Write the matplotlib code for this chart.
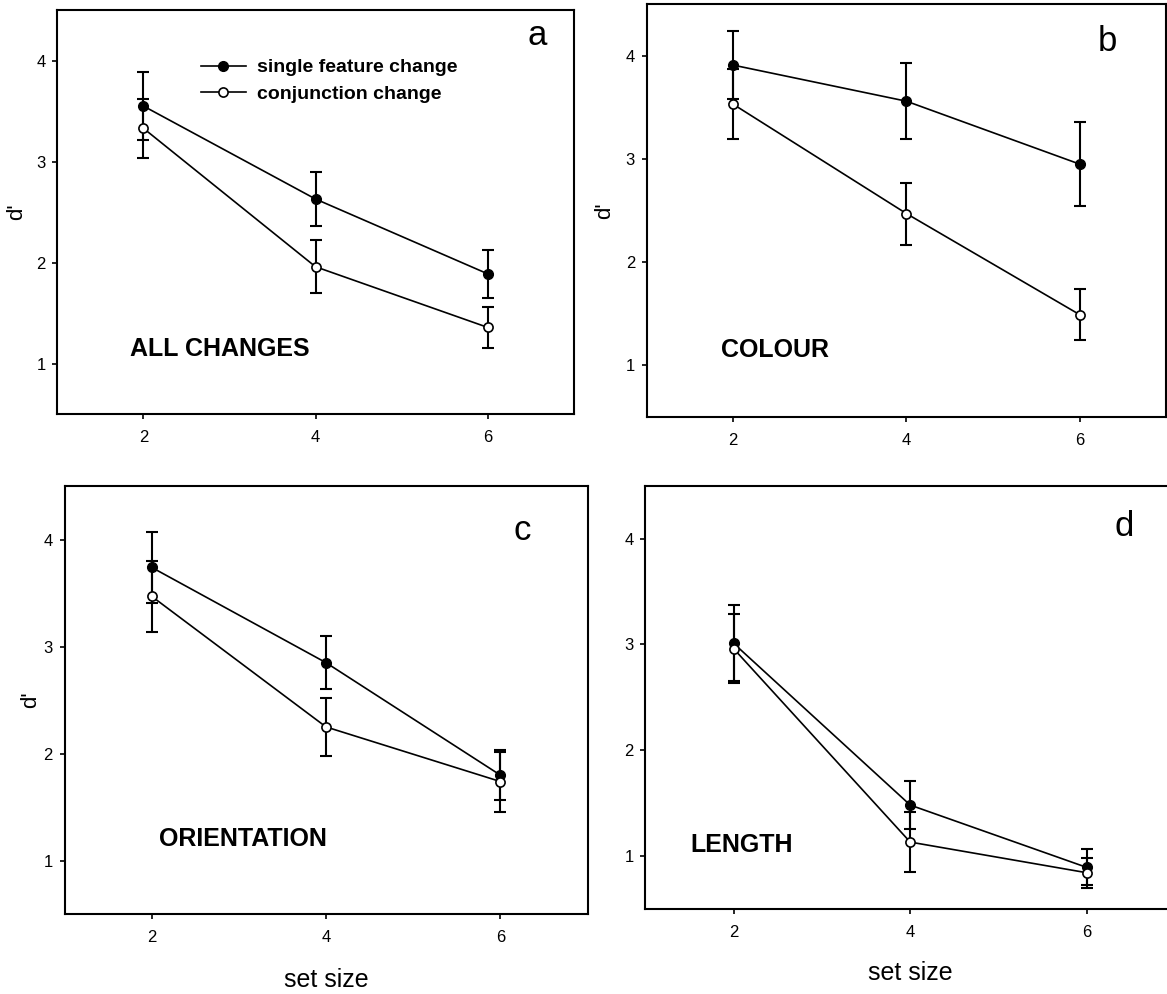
import matplotlib
matplotlib.use('Agg')
import matplotlib.pyplot as plt

plt.rcParams['font.family'] = ['Liberation Sans', 'DejaVu Sans']

set_size = [2, 4, 6]

a_single = [3.55, 2.63, 1.89]
a_single_err = [0.34, 0.27, 0.24]
a_conj = [3.33, 1.96, 1.36]
a_conj_err = [0.29, 0.26, 0.20]

b_single = [3.91, 3.56, 2.95]
b_single_err = [0.33, 0.37, 0.41]
b_conj = [3.53, 2.47, 1.49]
b_conj_err = [0.34, 0.30, 0.25]

c_single = [3.74, 2.85, 1.80]
c_single_err = [0.33, 0.25, 0.23]
c_conj = [3.47, 2.25, 1.74]
c_conj_err = [0.33, 0.27, 0.28]

d_single = [3.01, 1.48, 0.89]
d_single_err = [0.36, 0.23, 0.17]
d_conj = [2.96, 1.13, 0.84]
d_conj_err = [0.33, 0.28, 0.14]

letters = ['a', 'b', 'c', 'd']
conditions = ['ALL CHANGES', 'COLOUR', 'ORIENTATION', 'LENGTH']

W, H = 1167, 994
fig = plt.figure(figsize=(W / 100, H / 100), dpi=100)

# axes boxes in pixels: left, right, top, bottom
boxes = [(57.3, 573.7, 10, 414.3),
         (646.7, 1166.2, 4.3, 416.7),
         (64.5, 587.5, 486, 914.3),
         (645.2, 1175.2, 485.7, 908.7)]

single = [a_single, b_single, c_single, d_single]
single_err = [a_single_err, b_single_err, c_single_err, d_single_err]
conj = [a_conj, b_conj, c_conj, d_conj]
conj_err = [a_conj_err, b_conj_err, c_conj_err, d_conj_err]

letter_pos = [(0.930, 0.938), (0.886, 0.909), (0.8755, 0.897), (0.903, 0.903)]
cond_pos = [(0.141, 0.1615), (0.1425, 0.162), (0.180, 0.175), (0.0847, 0.1506)]
ylab_x = [-0.078, -0.081, -0.065, None]

for i in range(4):
    l, r, t, b = boxes[i]
    ax = fig.add_axes([l / W, (H - b) / H, (r - l) / W, (b - t) / H])

    ax.errorbar(set_size, single[i], yerr=single_err[i], fmt='none',
                ecolor='black', elinewidth=1.5, capsize=4.4, capthick=1.5, zorder=2)
    ax.errorbar(set_size, conj[i], yerr=conj_err[i], fmt='none',
                ecolor='black', elinewidth=1.5, capsize=4.4, capthick=1.5, zorder=2)
    l1, = ax.plot(set_size, single[i], '-o', color='black', lw=1.2,
                  ms=7, mfc='black', mec='black', zorder=3,
                  label='single feature change')
    l2, = ax.plot(set_size, conj[i], '-o', color='black', lw=1.2,
                  ms=6.6, mfc='white', mec='black', mew=1.2, zorder=4,
                  label='conjunction change')

    ax.set_xlim(1, 7)
    ax.set_ylim(0.5, 4.5)
    ax.set_xticks(set_size)
    ax.set_yticks([1, 2, 3, 4])
    for s in ax.spines.values():
        s.set_linewidth(1.5)
    ax.tick_params(axis='y', direction='out', length=3.4, width=1.2, pad=5, labelsize=12)
    ax.tick_params(axis='x', direction='out', length=3.6, width=1.2, pad=8, labelsize=12)

    ax.text(letter_pos[i][0], letter_pos[i][1], letters[i], transform=ax.transAxes,
            ha='center', va='center', fontsize=25)
    ax.text(cond_pos[i][0], cond_pos[i][1], conditions[i], transform=ax.transAxes,
            ha='left', va='center', fontsize=18, fontweight='bold')

    if ylab_x[i] is not None:
        ax.text(ylab_x[i], 0.5, "d'", transform=ax.transAxes, rotation=90,
                ha='center', va='center', fontsize=16)
    if i >= 2:
        ax.text(0.5, -0.153, 'set size', transform=ax.transAxes,
                ha='center', va='center', fontsize=18)

    if i == 0:
        ax.legend(handles=[l1, l2], loc='center left', bbox_to_anchor=(0.278, 0.825),
                  frameon=False, borderpad=0, borderaxespad=0, handlelength=2.3,
                  handletextpad=0.6, labelspacing=0.45,
                  prop={'size': 14, 'weight': 'bold'})

fig.savefig('out.png', dpi=100, facecolor='white')
